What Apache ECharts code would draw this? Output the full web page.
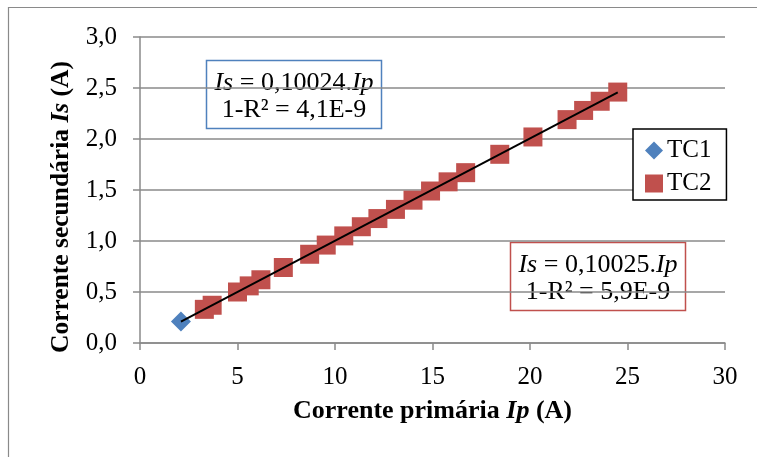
<!DOCTYPE html>
<html><head><meta charset="utf-8">
<script src="https://cdn.jsdelivr.net/npm/echarts@6/dist/echarts.min.js"></script>
<style>html,body{margin:0;padding:0;background:#fff}#c{width:757px;height:457px}</style>
</head><body><div id="c"></div>
<script>
const tc1Ip = [2.1];
const tc1Is = [0.21];
const tc2Ip = [3.3, 3.7, 5.0, 5.6, 6.2, 7.35, 8.7, 9.55, 10.45, 11.35, 12.2, 13.1, 14.0, 14.9, 15.8, 16.7, 18.45, 20.15, 21.9, 22.75, 23.6, 24.5];
const tc2Is = [0.33, 0.37, 0.50, 0.56, 0.62, 0.74, 0.87, 0.96, 1.05, 1.14, 1.22, 1.31, 1.40, 1.49, 1.58, 1.67, 1.85, 2.02, 2.19, 2.28, 2.37, 2.46];
const trendIp = [2.1, 24.5];
const trendIs = [0.2105, 2.456];
const eq1 = ['{i|Is} = 0,10024.{i|Ip}', '1-R² = 4,1E-9'];
const eq2 = ['{i|Is} = 0,10025.{i|Ip}', '1-R² = 5,9E-9'];

const FONT = 'Liberation Serif';
const GRID = '#8a8a8a';
const pairs = (xs, ys) => xs.map((x, i) => [x, ys[i]]);

const chart = echarts.init(document.getElementById('c'));
function box(x, y, w, h, color, lines) {
  return {
    type: 'group', z: 100,
    children: [
      { type: 'rect', shape: { x: x, y: y, width: w, height: h },
        style: { fill: '#fff', stroke: color, lineWidth: 1.5 } },
      { type: 'text', x: x + w / 2, y: y + h / 2 + 2,
        style: { text: lines.join('\n'), align: 'center', verticalAlign: 'middle',
          fontFamily: FONT, fontSize: 26, lineHeight: 27, fill: '#000',
          rich: { i: { fontStyle: 'italic', fontFamily: FONT, fontSize: 26, lineHeight: 27 } } } }
    ]
  };
}
chart.setOption({
  animation: false,
  backgroundColor: '#fff',
  grid: { left: 140, right: 32, top: 37, bottom: 114 },
  xAxis: {
    type: 'value', min: 0, max: 30, interval: 5,
    name: 'Corrente primária {i|Ip} (A)', nameLocation: 'middle', nameGap: 55,
    nameTextStyle: { fontFamily: FONT, fontSize: 26, fontWeight: 'bold', color: '#000',
      rich: { i: { fontFamily: FONT, fontSize: 26, fontWeight: 'bold', fontStyle: 'italic', color: '#000' } } },
    axisLine: { show: true, onZero: false, lineStyle: { color: GRID, width: 1.5 } },
    axisTick: { show: true, length: 7, lineStyle: { color: GRID, width: 1.5 } },
    axisLabel: { margin: 22, fontFamily: FONT, fontSize: 25, color: '#000' },
    splitLine: { show: false }
  },
  yAxis: {
    type: 'value', min: 0, max: 3, interval: 0.5,
    name: 'Corrente secundária {i|Is} (A)', nameLocation: 'middle', nameGap: 62, nameRotate: 90,
    nameTextStyle: { fontFamily: FONT, fontSize: 25.5, fontWeight: 'bold', color: '#000', padding: [0, 34, 0, 0],
      rich: { i: { fontFamily: FONT, fontSize: 25.5, fontWeight: 'bold', fontStyle: 'italic', color: '#000' } } },
    axisLine: { show: true, lineStyle: { color: GRID, width: 1.5 } },
    axisTick: { show: true, length: 7, lineStyle: { color: GRID, width: 1.5 } },
    axisLabel: { margin: 23, fontFamily: FONT, fontSize: 25, color: '#000',
      formatter: v => v.toFixed(1).replace('.', ',') },
    splitLine: { show: true, lineStyle: { color: GRID, width: 1.5 } }
  },
  legend: {
    orient: 'vertical', left: 633, top: 129,
    padding: [9, 15, 4, 12], itemGap: 8, itemWidth: 18, itemHeight: 18,
    borderColor: '#000', borderWidth: 1.5, backgroundColor: '#fff',
    textStyle: { fontFamily: FONT, fontSize: 25, color: '#000', padding: [0, 0, 0, -1] },
    data: [{ name: 'TC1', icon: 'diamond' }, { name: 'TC2', icon: 'rect' }]
  },
  series: [
    { name: 'TC1', type: 'scatter', symbol: 'diamond', symbolSize: 20,
      itemStyle: { color: '#4F81BD', opacity: 1 }, data: pairs(tc1Ip, tc1Is), z: 2 },
    { name: 'TC2', type: 'scatter', symbol: 'rect', symbolSize: 19,
      itemStyle: { color: '#C0504D', opacity: 1 }, data: pairs(tc2Ip, tc2Is), z: 3 },
    { name: 'trend', type: 'line', symbol: 'none', silent: true,
      lineStyle: { color: '#000', width: 2 }, data: pairs(trendIp, trendIs), z: 4 }
  ],
  graphic: [
    { type: 'rect', shape: { x: 8.5, y: 7.5, width: 800, height: 500 },
      style: { fill: 'none', stroke: '#8a8a8a', lineWidth: 1.2 }, z: -1 },
    box(206.5, 60.5, 175, 68, '#4F81BD', eq1),
    box(510.5, 242.5, 175, 68, '#C0504D', eq2)
  ]
});
</script></body></html>
